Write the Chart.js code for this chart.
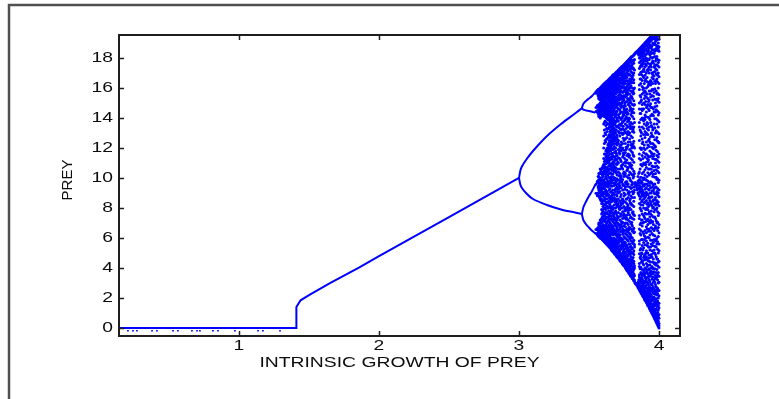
<!DOCTYPE html>
<html>
<head>
<meta charset="utf-8">
<script src="https://cdn.jsdelivr.net/npm/chart.js@4/dist/chart.umd.min.js"></script>
<style>
  html, body { margin: 0; padding: 0; background: #fff; }
</style>
</head>
<body>
<canvas id="c" width="779" height="399"></canvas>
<script>
// Bifurcation of prey population vs. intrinsic growth rate

// Tick labels
const xTicks = [1, 2, 3, 4];
const yTicks = [0, 2, 4, 6, 8, 10, 12, 14, 16, 18];

// Extinct state (prey = 0) and the stable equilibrium branch
const baseR = [0.143, 1.41, 1.41, 1.44, 1.5, 1.65, 1.86, 2.0, 2.5, 3.0];
const baseY = [0, 0, 1.4, 1.85, 2.2, 3.0, 4.05, 4.8, 7.4, 10.0];

// Small marks just under the zero line
const zeroMarkR = [0.207, 0.243, 0.271, 0.379, 0.414, 0.529, 0.564, 0.664, 0.70, 0.721, 0.814, 0.85, 0.971, 1.136, 1.171, 1.293];

// Period-2 cycle
const p2R = [3.0, 3.01, 3.02, 3.05, 3.1, 3.2, 3.3, 3.4, 3.449];
const p2Upper = [10.0, 10.5, 10.75, 11.2, 11.8, 12.8, 13.6, 14.3, 14.65];
const p2Lower = [10.0, 9.55, 9.35, 9.0, 8.6, 8.2, 7.9, 7.7, 7.6];

// Period-4 cycle
const p4R = [3.449, 3.46, 3.48, 3.5, 3.52, 3.545];
const p4High1 = [14.65, 14.95, 15.15, 15.3, 15.45, 15.7];
const p4Low1 = [14.65, 14.55, 14.5, 14.47, 14.42, 14.35];
const p4High2 = [7.6, 8.05, 8.45, 8.8, 9.1, 9.55];
const p4Low2 = [7.6, 7.2, 6.9, 6.7, 6.5, 6.3];

// Period-8 and chaotic region: growth rate columns and the prey values seen in each
const chaosR = [3.55, 3.56, 3.57, 3.58, 3.59, 3.60, 3.61, 3.62, 3.63, 3.64, 3.65, 3.66, 3.67, 3.68, 3.69,
  3.70, 3.71, 3.72, 3.73, 3.74, 3.75, 3.76, 3.77, 3.78, 3.79, 3.80, 3.81, 3.82, 3.83, 3.84, 3.85,
  3.86, 3.87, 3.88, 3.89, 3.90, 3.91, 3.92, 3.93, 3.94, 3.95, 3.96, 3.97, 3.98, 3.99, 4.00];
const chaosY = [
  [6.30, 6.57, 8.98, 9.59, 14.43, 14.69, 15.65, 15.75],
  [6.21, 6.64, 8.81, 9.79, 14.40, 14.83, 15.68, 15.84, 6.3, 6.55, 8.9, 9.7, 14.5, 14.75, 15.72, 15.8],
  [6.1, 6.2, 6.3, 6.4, 6.5, 6.6, 6.7, 6.9, 7.0, 8.8, 9.0, 9.2, 9.3, 9.5, 9.7, 9.9, 10.1, 10.3, 14.1, 14.2, 14.3, 14.5, 14.6, 14.7, 14.9, 15.3, 15.4, 15.5, 15.6, 15.7, 15.8, 15.9],
  [6.0, 6.1, 6.3, 6.35, 6.5, 6.7, 6.8, 7.0, 7.2, 8.6, 8.75, 9.0, 9.2, 9.35, 9.6, 9.8, 10.0, 10.3, 10.6, 14.0, 14.15, 14.3, 14.45, 14.6, 14.8, 15.0, 15.2, 15.35, 15.5, 15.6, 15.75, 15.85, 15.95, 16.0],
  [5.95, 6.05, 6.2, 6.3, 6.45, 6.6, 6.8, 7.0, 7.3, 7.6, 7.9, 8.3, 8.6, 8.85, 9.1, 9.3, 9.55, 9.8, 10.0, 10.3, 10.6, 14.2, 14.3, 14.5, 14.6, 14.75, 14.9, 15.1, 15.25, 15.4, 15.55, 15.7, 15.8, 15.95, 16.05, 16.1],
  [5.85, 5.95, 6.1, 6.25, 6.35, 6.55, 6.7, 6.9, 7.15, 7.45, 7.8, 8.1, 8.5, 8.8, 9.05, 9.35, 9.6, 9.85, 10.1, 10.4, 10.8, 14.2, 14.3, 14.4, 14.55, 14.7, 14.9, 15.05, 15.2, 15.4, 15.6, 15.75, 15.9, 16.0, 16.15, 16.2],
  [5.75, 5.8, 5.95, 6.2, 6.3, 6.6, 6.75, 7.1, 7.5, 7.6, 8.2, 8.5, 8.7, 9.3, 9.4, 9.9, 10.3, 10.5, 10.9, 11.1, 11.6, 12.3, 13.2, 13.7, 14.1, 14.2, 14.45, 14.6, 14.65, 14.9, 15.2, 15.3, 15.6, 15.75, 15.85, 16.05, 16.2, 16.3],
  [5.65, 5.7, 5.9, 6.05, 6.4, 6.5, 6.9, 7.3, 7.4, 7.9, 8.3, 8.4, 8.9, 9.2, 9.7, 10.0, 10.1, 10.6, 10.95, 11.2, 11.4, 11.8, 12.4, 12.9, 13.5, 14.05, 14.2, 14.3, 14.55, 14.8, 14.9, 15.1, 15.45, 15.55, 15.7, 15.95, 16.1, 16.25, 16.35, 16.4],
  [5.55, 5.6, 5.85, 6.0, 6.15, 6.6, 6.7, 7.0, 7.6, 7.7, 8.1, 8.6, 9.0, 9.1, 9.6, 9.9, 10.4, 10.7, 11.0, 11.3, 11.65, 12.0, 12.6, 13.1, 13.6, 13.95, 14.1, 14.35, 14.4, 14.7, 14.95, 15.05, 15.3, 15.5, 15.75, 15.9, 16.0, 16.25, 16.4, 16.45],
  [5.45, 5.5, 5.7, 5.95, 6.3, 6.4, 6.85, 7.2, 7.35, 7.8, 8.0, 8.45, 8.9, 9.5, 9.6, 10.05, 10.5, 10.8, 11.1, 11.5, 11.75, 12.0, 12.3, 12.8, 13.3, 13.6, 13.9, 14.0, 14.25, 14.5, 14.6, 14.85, 15.15, 15.3, 15.6, 15.7, 15.95, 16.1, 16.3, 16.45, 16.55],
  [5.35, 5.45, 5.6, 5.9, 6.1, 6.5, 6.6, 7.0, 7.5, 7.65, 8.2, 8.6, 8.75, 9.3, 9.8, 10.0, 10.35, 10.9, 11.2, 11.6, 11.9, 12.2, 12.4, 12.7, 13.1, 13.4, 13.75, 13.9, 14.05, 14.35, 14.4, 14.75, 15.0, 15.2, 15.4, 15.65, 15.85, 16.0, 16.2, 16.4, 16.55, 16.65],
  [5.2, 5.3, 5.55, 5.7, 6.0, 6.35, 6.45, 6.9, 7.3, 7.45, 7.95, 8.4, 8.8, 9.1, 9.65, 10.1, 10.3, 10.85, 11.4, 11.6, 12.0, 12.35, 12.7, 12.95, 13.2, 13.45, 13.65, 13.8, 14.1, 14.2, 14.55, 14.8, 15.1, 15.25, 15.55, 15.8, 15.9, 16.15, 16.35, 16.55, 16.7],
  [5.1, 5.2, 5.4, 5.65, 5.8, 6.2, 6.55, 6.7, 7.1, 7.7, 7.9, 8.5, 8.95, 9.2, 9.9, 10.25, 10.7, 11.05, 11.5, 11.9, 12.3, 12.6, 12.95, 13.2, 13.5, 13.7, 13.95, 14.3, 14.45, 14.7, 15.0, 15.35, 15.5, 15.7, 16.0, 16.2, 16.4, 16.6, 16.75, 16.85],
  [5.0, 5.05, 5.3, 5.5, 5.75, 6.0, 6.4, 6.6, 7.0, 7.4, 7.6, 8.2, 8.7, 8.9, 9.5, 9.9, 10.4, 10.8, 11.1, 11.7, 12.1, 12.6, 12.9, 13.3, 13.6, 13.8, 14.2, 14.5, 14.6, 14.95, 15.3, 15.45, 15.8, 16.0, 16.25, 16.5, 16.65, 16.8, 16.9],
  [4.9, 4.95, 5.15, 5.45, 5.6, 5.9, 6.3, 6.45, 6.85, 7.3, 7.8, 8.0, 8.6, 9.1, 9.3, 9.8, 10.5, 10.7, 11.3, 11.8, 12.0, 12.5, 13.0, 13.2, 13.7, 14.1, 14.3, 14.7, 15.0, 15.2, 15.6, 15.9, 16.1, 16.4, 16.6, 16.75, 16.95, 17.0],
  [4.75, 4.85, 5.0, 5.3, 5.55, 5.7, 6.1, 6.6, 6.7, 7.2, 7.5, 8.1, 8.5, 8.8, 9.4, 9.95, 10.2, 10.9, 11.2, 11.5, 12.2, 12.7, 12.85, 13.4, 13.9, 14.0, 14.45, 14.8, 15.1, 15.3, 15.7, 15.85, 16.2, 16.45, 16.7, 16.85, 17.0, 17.1],
  [4.65, 4.7, 4.9, 5.1, 5.4, 5.65, 5.85, 6.3, 6.5, 6.95, 7.4, 7.7, 8.3, 8.6, 9.0, 9.6, 9.85, 10.4, 11.0, 11.35, 11.9, 12.3, 12.5, 13.1, 13.5, 13.8, 14.2, 14.6, 14.9, 15.2, 15.5, 15.75, 16.0, 16.3, 16.6, 16.8, 17.0, 17.15, 17.2],
  [4.5, 4.6, 4.8, 5.05, 5.2, 5.5, 5.95, 6.2, 6.6, 6.75, 7.2, 7.9, 8.1, 8.45, 9.1, 9.5, 9.7, 10.3, 10.6, 11.3, 11.6, 12.1, 12.8, 13.0, 13.6, 14.0, 14.3, 14.55, 15.0, 15.35, 15.6, 15.9, 16.15, 16.4, 16.65, 16.9, 17.1, 17.25, 17.3],
  [4.4, 4.45, 4.65, 4.9, 5.25, 5.4, 5.8, 6.0, 6.45, 6.9, 7.1, 7.6, 8.2, 8.35, 8.9, 9.35, 10.0, 10.15, 10.8, 11.1, 11.8, 12.2, 12.4, 13.2, 13.5, 13.9, 14.4, 14.7, 14.85, 15.25, 15.5, 15.8, 16.05, 16.35, 16.6, 16.85, 17.05, 17.3, 17.4],
  [4.25, 4.35, 4.55, 4.75, 5.0, 5.35, 5.6, 5.9, 6.25, 6.6, 7.05, 7.3, 7.75, 8.3, 8.6, 9.2, 9.6, 9.9, 10.6, 10.9, 11.4, 12.0, 12.3, 12.9, 13.3, 13.75, 14.1, 14.4, 14.8, 15.1, 15.45, 15.7, 16.0, 16.25, 16.55, 16.8, 17.05, 17.25, 17.45],
  [4.15, 4.2, 4.4, 4.7, 4.85, 5.2, 5.5, 5.75, 6.1, 6.5, 6.8, 7.35, 7.6, 8.1, 8.8, 9.0, 9.5, 10.1, 10.4, 11.0, 11.6, 11.85, 12.5, 13.0, 13.2, 13.8, 14.2, 14.6, 14.75, 15.2, 15.5, 15.8, 16.1, 16.3, 16.6, 16.9, 17.1, 17.4, 17.55],
  [4.0, 4.1, 4.3, 4.5, 4.8, 5.05, 5.3, 5.7, 6.0, 6.3, 6.75, 7.0, 7.5, 8.0, 8.4, 8.9, 9.4, 9.7, 10.3, 10.8, 11.1, 11.7, 12.3, 12.6, 13.1, 13.6, 13.9, 14.35, 14.8, 15.05, 15.4, 15.75, 16.0, 16.3, 16.65, 16.95, 17.2, 17.45, 17.65],
  [3.85, 3.95, 4.15, 4.4, 4.65, 4.9, 5.25, 5.5, 5.9, 6.2, 6.6, 7.0, 7.3, 7.85, 8.3, 8.6, 9.2, 9.75, 10.1, 10.5, 11.2, 11.5, 12.0, 12.7, 13.0, 13.5, 14.0, 14.4, 14.6, 15.1, 15.5, 15.8, 16.1, 16.5, 16.7, 17.0, 17.3, 17.55, 17.75],
  [3.75, 3.8, 4.0, 4.3, 4.5, 4.8, 5.1, 5.35, 5.8, 6.1, 6.4, 6.9, 7.2, 7.7, 8.2, 8.7, 9.0, 9.6, 10.0, 10.7, 11.0, 11.6, 12.2, 12.4, 13.1, 13.4, 13.9, 14.3, 14.9, 15.2, 15.6, 15.9, 16.2, 16.45, 16.85, 17.15, 17.4, 17.65, 17.85],
  [3.6, 3.65, 3.85, 4.1, 4.35, 4.6, 5.0, 5.2, 5.6, 5.95, 6.3, 6.7, 7.1, 7.55, 8.0, 8.5, 9.05, 9.4, 10.0, 10.4, 10.9, 11.5, 11.9, 12.6, 13.0, 13.6, 13.95, 14.5, 14.8, 15.3, 15.6, 16.0, 16.3, 16.6, 16.9, 17.25, 17.5, 17.75, 17.95],
  [3.45, 3.5, 3.7, 3.95, 4.2, 4.5, 4.75, 5.1, 5.45, 5.8, 6.1, 6.6, 7.0, 7.4, 7.9, 8.3, 8.8, 9.3, 9.8, 10.3, 10.7, 11.3, 11.8, 12.2, 12.8, 13.3, 13.7, 14.2, 14.6, 15.0, 15.45, 15.8, 16.15, 16.45, 16.8, 17.1, 17.4, 17.7, 17.9, 18.05],
  [3.3, 3.35, 3.55, 3.8, 4.1, 4.4, 4.6, 5.0, 5.3, 5.65, 6.0, 6.45, 6.8, 7.3, 7.7, 8.2, 8.7, 9.1, 9.7, 10.2, 10.6, 11.2, 11.7, 12.1, 12.7, 13.1, 13.6, 14.1, 14.4, 14.9, 15.3, 15.7, 16.0, 16.4, 16.7, 17.0, 17.3, 17.6, 17.85, 18.1],
  [3.15, 3.2, 3.45, 3.6, 3.9, 4.3, 4.45, 4.9, 5.15, 5.6, 5.85, 6.35, 6.65, 7.25, 7.55, 8.1, 8.45, 9.05, 9.4, 10.1, 10.45, 11.05, 11.45, 12.1, 12.45, 13.05, 13.4, 13.95, 14.35, 14.85, 15.15, 15.65, 15.95, 16.35, 16.55, 17.0, 17.25, 17.65, 17.85, 18.2],
  [2.99, 3.0, 9.66, 9.7, 18.33, 18.3],
  [2.87, 2.95, 9.37, 9.55, 18.42, 18.4],
  [2.7, 2.85, 3.05, 9.0, 9.35, 9.8, 10.1, 18.3, 18.45, 18.5],
  [2.55, 2.6, 2.9, 3.0, 3.4, 3.55, 4.1, 4.3, 4.95, 5.6, 5.8, 6.6, 7.3, 7.5, 8.3, 8.8, 9.05, 9.3, 9.5, 9.9, 10.4, 11.3, 11.6, 12.5, 13.4, 13.7, 14.6, 15.0, 15.9, 16.2, 16.9, 17.3, 17.7, 18.0, 18.2, 18.4, 18.55, 18.6],
  [2.35, 2.5, 2.7, 3.05, 3.2, 3.7, 4.05, 4.6, 4.8, 5.3, 6.2, 6.5, 7.0, 7.9, 8.2, 8.75, 9.1, 9.4, 9.65, 10.05, 10.9, 11.2, 12.0, 12.8, 13.1, 13.9, 14.3, 15.1, 15.4, 16.3, 16.6, 17.05, 17.5, 17.8, 18.1, 18.3, 18.5, 18.7],
  [2.2, 2.25, 2.5, 2.75, 3.0, 3.3, 3.5, 3.9, 4.45, 4.95, 5.5, 5.9, 6.8, 7.2, 7.6, 8.5, 8.9, 9.2, 9.7, 10.3, 10.8, 11.5, 12.3, 12.6, 13.4, 14.0, 14.5, 14.9, 15.6, 16.1, 16.5, 17.1, 17.45, 17.9, 18.2, 18.4, 18.65, 18.8],
  [2.05, 2.15, 2.4, 2.55, 2.85, 3.15, 3.6, 3.75, 4.2, 4.7, 5.35, 5.7, 6.3, 7.05, 7.5, 8.0, 8.6, 9.0, 9.45, 9.9, 10.4, 11.0, 11.7, 12.0, 12.9, 13.3, 13.8, 14.6, 15.0, 15.7, 16.0, 16.7, 17.25, 17.6, 17.95, 18.3, 18.55, 18.75, 18.9],
  [1.85, 2.0, 2.15, 2.5, 2.65, 3.05, 3.4, 3.6, 4.0, 4.55, 4.9, 5.55, 6.1, 6.5, 7.3, 7.65, 8.4, 8.7, 9.25, 9.6, 10.2, 10.55, 11.4, 11.9, 12.7, 13.1, 13.9, 14.2, 14.9, 15.5, 15.8, 16.5, 16.85, 17.4, 17.8, 18.15, 18.5, 18.8, 19.0],
  [1.7, 1.8, 2.0, 2.3, 2.45, 2.85, 3.2, 3.35, 3.9, 4.3, 4.75, 5.15, 5.8, 6.35, 6.75, 7.6, 8.0, 8.5, 9.05, 9.35, 9.85, 10.7, 11.05, 11.6, 12.4, 13.0, 13.5, 14.4, 14.7, 15.4, 16.0, 16.45, 17.0, 17.5, 17.9, 18.25, 18.55, 18.9, 19.1],
  [1.5, 1.55, 1.85, 2.0, 2.35, 2.55, 3.0, 3.4, 3.6, 4.2, 4.5, 5.0, 5.65, 6.05, 6.9, 7.25, 7.9, 8.35, 8.9, 9.5, 9.8, 10.35, 11.1, 11.5, 12.2, 12.9, 13.6, 14.05, 14.9, 15.3, 16.1, 16.4, 17.15, 17.65, 17.95, 18.35, 18.7, 19.05, 19.2],
  [1.35, 1.45, 1.7, 1.85, 2.2, 2.5, 2.7, 3.2, 3.5, 3.95, 4.45, 4.85, 5.4, 6.0, 6.6, 7.1, 7.75, 8.2, 8.75, 9.2, 9.7, 10.2, 10.9, 11.4, 12.1, 12.6, 13.4, 14.0, 14.5, 15.2, 15.8, 16.3, 17.0, 17.4, 17.9, 18.3, 18.65, 19.0, 19.3],
  [1.15, 1.2, 1.5, 1.65, 2.05, 2.25, 2.7, 2.95, 3.45, 3.8, 4.4, 4.7, 5.4, 5.85, 6.45, 7.2, 7.6, 8.35, 8.7, 9.35, 9.75, 10.3, 11.0, 11.45, 12.3, 12.75, 13.7, 14.15, 14.95, 15.4, 16.2, 16.5, 17.2, 17.55, 18.05, 18.4, 18.85, 19.15, 19.4],
  [0.98, 1.1, 1.3, 1.5, 1.9, 2.1, 2.55, 2.9, 3.25, 3.75, 4.1, 4.75, 5.15, 5.85, 6.3, 7.05, 7.5, 8.15, 8.75, 9.15, 9.65, 10.4, 10.8, 11.6, 12.05, 12.85, 13.4, 14.25, 14.7, 15.5, 15.9, 16.7, 17.0, 17.7, 18.0, 18.55, 18.8, 19.25, 19.45],
  [0.8, 0.9, 1.05, 1.4, 1.6, 2.0, 2.3, 2.75, 3.05, 3.6, 3.95, 4.6, 5.0, 5.7, 6.2, 6.9, 7.4, 8.05, 8.55, 9.15, 9.55, 10.25, 10.75, 11.45, 11.95, 12.75, 13.3, 14.15, 14.6, 15.45, 15.9, 16.6, 17.05, 17.65, 18.05, 18.55, 18.95, 19.3, 19.55],
  [0.6, 0.65, 0.95, 1.1, 1.5, 1.75, 2.25, 2.5, 3.05, 3.35, 3.95, 4.35, 5.0, 5.45, 6.15, 6.65, 7.4, 7.9, 8.55, 8.95, 9.6, 10.05, 10.75, 11.25, 12.05, 12.55, 13.35, 13.95, 14.75, 15.25, 15.95, 16.45, 17.1, 17.5, 18.1, 18.45, 18.95, 19.25, 19.55],
  [0.4, 0.55, 0.7, 1.0, 1.25, 1.65, 1.95, 2.45, 2.75, 3.3, 3.7, 4.3, 4.75, 5.4, 5.9, 6.65, 7.15, 7.9, 8.35, 8.95, 9.4, 10.05, 10.55, 11.25, 11.85, 12.55, 13.15, 13.95, 14.55, 15.25, 15.8, 16.5, 16.95, 17.55, 17.95, 18.55, 18.85, 19.35, 19.5],
  [0.2, 0.35, 0.5, 0.85, 1.05, 1.5, 1.8, 2.3, 2.65, 3.2, 3.55, 4.15, 4.6, 5.25, 5.75, 6.5, 7.05, 7.75, 8.25, 8.85, 9.3, 9.95, 10.45, 11.15, 11.75, 12.45, 13.05, 13.85, 14.45, 15.15, 15.65, 16.4, 16.85, 17.5, 17.9, 18.5, 18.8, 19.3, 19.5],
  [0.0, 0.15, 0.3, 0.65, 0.9, 1.35, 1.65, 2.15, 2.5, 3.05, 3.45, 4.05, 4.45, 5.15, 5.6, 6.35, 6.9, 7.65, 8.15, 8.75, 9.2, 9.85, 10.35, 11.05, 11.6, 12.35, 12.95, 13.75, 14.35, 15.05, 15.55, 16.3, 16.75, 17.4, 17.85, 18.45, 18.75, 19.25, 19.5]
];

// Half-step columns between the ones above
const chaosR2 = [3.565, 3.575, 3.585, 3.595, 3.605, 3.615, 3.625, 3.635, 3.645, 3.655, 3.665, 3.675, 3.685, 3.695,
  3.705, 3.715, 3.725, 3.735, 3.745, 3.755, 3.765, 3.775, 3.785, 3.795, 3.805, 3.815, 3.825, 3.835, 3.845, 3.855,
  3.865, 3.875, 3.885, 3.895, 3.905, 3.915, 3.925, 3.935, 3.945, 3.955, 3.965, 3.975, 3.985, 3.995];
const chaosY2 = [
  [6.15, 6.2, 6.5, 6.7, 9.0, 9.4, 9.8, 10.1, 14.3, 14.5, 14.8, 15.5, 15.7, 15.9],
  [6.05, 6.25, 6.45, 6.9, 8.7, 9.15, 9.65, 10.3, 14.15, 14.4, 14.75, 15.25, 15.45, 15.65, 15.95],
  [5.98, 6.15, 6.55, 6.75, 7.1, 8.5, 8.95, 9.45, 9.9, 10.45, 14.1, 14.35, 14.7, 14.95, 15.3, 15.5, 15.8, 16.05],
  [5.9, 6.0, 6.4, 6.6, 7.4, 7.7, 8.4, 9.0, 9.25, 9.7, 10.2, 10.7, 14.15, 14.4, 14.65, 15.0, 15.15, 15.5, 15.65, 15.9, 16.15],
  [5.8, 5.9, 6.15, 6.45, 6.8, 7.3, 7.95, 8.25, 8.95, 9.5, 9.75, 10.25, 10.65, 10.9, 11.3, 12.0, 12.8, 13.6, 14.15, 14.35, 14.6, 14.8, 15.15, 15.35, 15.7, 15.95, 16.1, 16.25],
  [5.7, 5.85, 6.0, 6.5, 6.65, 7.2, 7.7, 8.0, 8.6, 9.1, 9.55, 9.7, 10.4, 10.75, 11.2, 11.6, 12.5, 13.0, 13.8, 14.1, 14.3, 14.5, 14.75, 15.0, 15.4, 15.5, 15.9, 16.15, 16.3],
  [5.6, 5.75, 6.1, 6.25, 6.8, 7.05, 7.65, 8.15, 8.8, 9.0, 9.45, 10.25, 10.5, 11.1, 11.5, 11.9, 12.6, 13.3, 13.7, 14.0, 14.15, 14.45, 14.7, 15.0, 15.25, 15.65, 15.85, 16.0, 16.3, 16.4],
  [5.5, 5.65, 5.8, 6.35, 6.55, 7.15, 7.4, 8.0, 8.35, 8.85, 9.4, 9.75, 10.2, 10.55, 11.15, 11.4, 11.8, 12.2, 12.7, 13.3, 13.6, 13.9, 14.1, 14.25, 14.55, 14.85, 15.1, 15.4, 15.6, 15.8, 16.15, 16.35, 16.5],
  [5.4, 5.55, 5.75, 6.05, 6.2, 6.75, 7.1, 7.55, 8.1, 8.3, 8.7, 9.2, 9.75, 10.3, 10.6, 11.0, 11.3, 11.85, 12.1, 12.5, 12.9, 13.4, 13.85, 13.95, 14.2, 14.45, 14.75, 15.05, 15.2, 15.55, 15.8, 16.05, 16.2, 16.4, 16.6],
  [5.3, 5.4, 5.65, 5.8, 6.25, 6.6, 6.8, 7.25, 7.8, 8.0, 8.55, 9.05, 9.5, 9.95, 10.6, 10.75, 11.35, 11.8, 12.05, 12.5, 12.8, 13.2, 13.5, 13.7, 13.85, 14.15, 14.5, 14.65, 14.95, 15.3, 15.5, 15.75, 15.95, 16.25, 16.5, 16.7],
  [5.15, 5.25, 5.45, 5.85, 5.95, 6.5, 6.75, 7.2, 7.65, 8.1, 8.65, 8.85, 9.45, 9.8, 10.5, 10.95, 11.25, 11.65, 12.2, 12.5, 12.85, 13.1, 13.35, 13.55, 13.75, 14.0, 14.4, 14.65, 14.9, 15.2, 15.45, 15.65, 16.05, 16.3, 16.5, 16.65, 16.8],
  [5.05, 5.15, 5.35, 5.55, 5.9, 6.25, 6.35, 6.8, 7.3, 7.55, 8.0, 8.6, 9.0, 9.65, 10.05, 10.55, 10.95, 11.4, 11.95, 12.45, 12.75, 13.1, 13.35, 13.6, 13.9, 14.25, 14.4, 14.8, 15.15, 15.25, 15.6, 15.9, 16.1, 16.35, 16.55, 16.75, 16.9],
  [4.92, 5.0, 5.2, 5.4, 5.7, 5.85, 6.25, 6.5, 6.95, 7.2, 7.7, 8.4, 8.55, 9.2, 9.65, 10.0, 10.65, 11.2, 11.4, 12.0, 12.3, 12.75, 13.1, 13.55, 13.75, 14.05, 14.4, 14.85, 15.05, 15.4, 15.7, 15.85, 16.2, 16.45, 16.6, 16.85, 16.95],
  [4.8, 4.9, 5.1, 5.35, 5.5, 5.8, 6.2, 6.4, 6.8, 7.05, 7.65, 8.25, 8.4, 8.9, 9.55, 9.75, 10.35, 10.95, 11.5, 11.65, 12.3, 12.6, 13.2, 13.45, 13.8, 14.25, 14.4, 14.9, 15.15, 15.4, 15.8, 16.0, 16.3, 16.55, 16.75, 16.9, 17.05],
  [4.7, 4.8, 5.25, 5.4, 6.0, 6.25, 7.0, 7.35, 8.2, 9.1, 9.25, 10.6, 11.05, 12.4, 12.55, 13.8, 14.65, 15.0, 15.9, 16.1, 16.6, 16.95, 17.1],
  [4.6, 4.75, 5.0, 5.75, 6.1, 6.85, 7.95, 8.1, 9.3, 9.45, 10.15, 11.7, 11.85, 13.0, 13.35, 14.05, 15.2, 15.35, 16.25, 16.5, 17.0, 17.2],
  [4.45, 4.55, 4.95, 5.3, 5.9, 6.4, 7.45, 7.6, 8.75, 9.85, 10.0, 11.2, 12.0, 12.2, 13.25, 14.4, 14.8, 15.75, 16.0, 16.5, 16.95, 17.3],
  [4.35, 4.5, 4.8, 5.55, 5.7, 6.75, 7.0, 8.0, 8.55, 9.75, 10.7, 10.85, 11.9, 13.0, 13.65, 14.0, 15.0, 15.35, 16.1, 16.7, 16.95, 17.2, 17.4],
  [4.2, 4.3, 4.65, 5.1, 5.45, 6.4, 6.55, 7.5, 8.4, 8.5, 9.5, 10.3, 11.5, 11.65, 12.65, 13.45, 14.25, 15.3, 15.45, 16.4, 16.75, 17.3, 17.5],
  [4.1, 4.2, 4.6, 4.95, 5.6, 6.0, 6.95, 7.8, 7.95, 9.25, 10.2, 10.35, 11.3, 12.6, 13.0, 13.95, 14.5, 14.95, 15.85, 16.45, 16.75, 17.35, 17.6],
  [3.95, 4.05, 4.45, 4.7, 5.4, 5.55, 6.5, 7.25, 7.4, 8.6, 9.6, 9.75, 11.0, 11.9, 12.05, 13.3, 14.1, 14.55, 15.6, 15.95, 16.8, 17.3, 17.7],
  [3.8, 3.9, 4.2, 4.6, 5.15, 5.35, 6.4, 7.55, 8.0, 8.1, 9.45, 10.55, 10.7, 12.1, 12.9, 13.75, 14.25, 15.3, 15.7, 16.3, 17.15, 17.45, 17.8],
  [3.65, 3.75, 4.05, 4.5, 4.95, 5.6, 6.55, 6.7, 7.85, 8.9, 9.1, 10.2, 11.4, 11.55, 12.9, 13.8, 14.0, 15.0, 15.85, 16.0, 16.95, 17.55, 17.9],
  [3.5, 3.6, 3.95, 4.25, 4.9, 5.4, 6.1, 6.25, 7.35, 8.35, 8.6, 9.85, 10.8, 11.0, 12.4, 13.3, 13.45, 14.7, 15.15, 16.1, 16.45, 17.3, 17.75, 18.0],
  [3.4, 3.55, 3.8, 4.3, 4.45, 5.3, 6.0, 6.9, 7.05, 8.2, 9.35, 9.55, 10.85, 12.0, 12.25, 13.4, 14.35, 14.5, 15.4, 16.35, 16.6, 17.5, 17.85, 18.1],
  [3.25, 3.35, 3.75, 4.0, 4.7, 5.0, 5.75, 6.55, 7.6, 7.75, 8.95, 10.0, 10.2, 11.55, 12.3, 13.2, 13.35, 14.6, 15.6, 15.8, 16.85, 17.35, 17.8, 18.15],
  [3.1, 3.2, 3.5, 4.0, 4.15, 5.4, 5.55, 6.4, 7.5, 8.7, 9.2, 9.6, 10.3, 12.0, 13.7, 14.9, 16.0, 17.2, 17.9, 18.25],
  [2.93, 9.5, 18.37],
  [2.8, 2.9, 9.2, 9.6, 18.45, 18.38],
  [2.62, 2.75, 2.95, 3.2, 8.9, 9.3, 9.7, 10.3, 18.2, 18.4, 18.55],
  [2.45, 2.55, 2.8, 3.1, 3.3, 3.95, 4.7, 5.2, 6.3, 6.9, 8.0, 8.6, 9.2, 9.4, 9.85, 10.6, 12.0, 13.2, 14.3, 15.5, 16.6, 17.4, 18.0, 18.35, 18.5, 18.65],
  [2.3, 2.4, 2.65, 2.8, 3.35, 3.6, 4.4, 5.0, 5.9, 7.2, 7.8, 8.4, 9.0, 9.35, 9.8, 10.9, 11.9, 13.0, 14.6, 15.2, 16.9, 17.6, 18.3, 18.55, 18.75],
  [2.12, 2.2, 2.4, 2.9, 3.15, 3.6, 4.3, 4.5, 5.2, 6.4, 7.0, 8.2, 8.8, 9.1, 9.55, 10.0, 11.3, 12.4, 13.9, 14.6, 15.9, 16.8, 17.7, 18.1, 18.5, 18.85],
  [1.95, 2.05, 2.25, 2.7, 3.0, 3.5, 3.9, 4.8, 5.9, 6.15, 7.4, 8.35, 8.9, 9.5, 10.0, 10.9, 12.2, 13.6, 14.0, 15.3, 16.3, 17.1, 17.8, 18.35, 18.7, 18.95],
  [1.8, 1.9, 2.1, 2.35, 2.8, 3.3, 3.7, 4.6, 5.0, 6.0, 7.1, 7.9, 8.8, 9.0, 9.9, 10.9, 11.6, 12.9, 14.1, 15.1, 15.7, 16.6, 17.6, 18.0, 18.6, 18.9, 19.05],
  [1.62, 1.7, 1.95, 2.2, 2.65, 3.05, 3.75, 4.1, 5.0, 5.5, 6.6, 7.15, 8.25, 8.9, 9.6, 10.1, 11.3, 12.0, 13.3, 13.7, 14.8, 15.6, 16.7, 17.2, 17.8, 18.45, 18.8, 19.15],
  [1.45, 1.55, 1.75, 2.1, 2.45, 2.85, 3.35, 3.9, 4.65, 5.4, 6.45, 7.6, 8.1, 8.65, 9.25, 10.6, 11.2, 12.5, 13.2, 14.6, 15.1, 16.2, 17.3, 17.9, 18.5, 18.9, 19.25],
  [1.25, 1.35, 1.6, 1.9, 2.35, 2.6, 3.1, 3.7, 4.2, 5.2, 6.2, 7.0, 7.4, 8.5, 9.0, 9.5, 10.6, 11.8, 12.4, 13.9, 14.8, 15.6, 16.4, 17.6, 18.2, 18.8, 19.1, 19.35],
  [1.07, 1.15, 1.35, 1.8, 2.1, 2.5, 2.9, 3.6, 4.0, 4.9, 5.6, 6.7, 7.8, 8.2, 9.0, 9.7, 10.6, 11.7, 13.0, 13.5, 14.7, 15.8, 16.4, 17.4, 18.3, 18.7, 19.2, 19.45],
  [0.88, 0.95, 1.2, 1.55, 1.85, 2.4, 2.65, 3.4, 4.0, 4.4, 5.5, 6.6, 7.1, 8.0, 8.45, 9.4, 10.1, 11.3, 12.3, 13.2, 14.2, 15.2, 16.3, 16.9, 17.8, 18.35, 19.0, 19.35, 19.55],
  [0.7, 0.78, 1.0, 1.25, 1.7, 2.05, 2.6, 3.2, 3.75, 4.3, 5.2, 5.9, 6.5, 7.75, 8.3, 9.0, 9.3, 10.5, 11.6, 12.2, 13.6, 14.4, 15.7, 16.8, 17.4, 18.3, 18.9, 19.4, 19.6],
  [0.5, 0.58, 0.8, 1.2, 1.6, 1.9, 2.4, 2.9, 3.5, 4.2, 4.9, 5.8, 6.8, 7.3, 8.2, 8.7, 9.4, 10.3, 11.0, 12.1, 13.0, 14.4, 15.0, 16.3, 17.3, 17.8, 18.6, 19.1, 19.5],
  [0.3, 0.4, 0.65, 0.9, 1.4, 1.75, 2.2, 2.6, 3.4, 3.9, 4.6, 5.6, 6.0, 7.0, 8.0, 8.5, 9.1, 9.9, 10.8, 11.5, 12.7, 13.6, 14.8, 15.6, 16.6, 17.2, 18.1, 18.7, 19.2, 19.55],
  [0.1, 0.2, 0.45, 0.75, 1.2, 1.5, 2.0, 2.5, 3.0, 3.7, 4.4, 5.0, 6.1, 6.7, 7.5, 8.4, 9.0, 9.7, 10.7, 11.4, 12.4, 13.4, 14.2, 15.3, 16.0, 17.0, 17.7, 18.6, 19.0, 19.5]
];

const BLUE = '#0000ff';
const TEXT_SX = 1.38;   // horizontal stretch of the axis lettering
const FONT = '"Liberation Sans", Arial, sans-serif';

const pairs = (xs, ys) => xs.map((x, i) => ({ x, y: ys[i] }));
const lineSet = (xs, ys, extra) => Object.assign({
  data: pairs(xs, ys), showLine: true, borderColor: BLUE, borderWidth: 2,
  pointRadius: 0, fill: false
}, extra || {});

const chaosPts = [];
chaosR.forEach((r, i) => chaosY[i].forEach(v => chaosPts.push({ x: r, y: v })));
chaosR2.forEach((r, i) => chaosY2[i].forEach(v => chaosPts.push({ x: r, y: v })));

// Frame, inward tick marks, tick labels and axis titles
const framePlugin = {
  id: 'frame',
  beforeDraw(chart) {
    const ctx = chart.ctx;
    ctx.save();
    ctx.fillStyle = '#fff';
    ctx.fillRect(0, 0, chart.width, chart.height);
    ctx.restore();
  },
  afterDraw(chart) {
    const { ctx, chartArea: a, scales: { x, y } } = chart;
    ctx.save();
    // outer figure border (top and left)
    ctx.strokeStyle = '#505050';
    ctx.lineWidth = 2.5;
    ctx.beginPath();
    ctx.moveTo(9, 399); ctx.lineTo(9, 5); ctx.lineTo(779, 5);
    ctx.stroke();

    // axes box
    ctx.strokeStyle = '#1e1e1e';
    ctx.lineWidth = 2;
    ctx.strokeRect(a.left, a.top, a.right - a.left, a.bottom - a.top);

    // inward ticks on all four sides
    ctx.lineWidth = 1.5;
    ctx.beginPath();
    xTicks.forEach(v => {
      const px = Math.round(x.getPixelForValue(v)) + 0.5;
      ctx.moveTo(px, a.bottom); ctx.lineTo(px, a.bottom - 5);
      ctx.moveTo(px, a.top); ctx.lineTo(px, a.top + 5);
    });
    yTicks.forEach(v => {
      const py = Math.round(y.getPixelForValue(v)) + 0.5;
      ctx.moveTo(a.left, py); ctx.lineTo(a.left + 5, py);
      ctx.moveTo(a.right, py); ctx.lineTo(a.right - 5, py);
    });
    ctx.stroke();

    ctx.fillStyle = '#0d0d0d';
    ctx.font = '14px ' + FONT;
    ctx.textBaseline = 'alphabetic';

    const wide = (text, px, py, align) => {
      ctx.save();
      ctx.translate(px, py);
      ctx.scale(TEXT_SX, 1);
      ctx.textAlign = align;
      ctx.fillText(text, 0, 0);
      ctx.restore();
    };

    xTicks.forEach(v => wide(String(v), x.getPixelForValue(v), 350, 'center'));
    yTicks.forEach(v => wide(String(v), 113, y.getPixelForValue(v) + 4, 'right'));

    wide('INTRINSIC GROWTH OF PREY', (a.left + a.right) / 2, 367, 'center');

    ctx.save();
    ctx.translate(72, 180);
    ctx.rotate(-Math.PI / 2);
    ctx.font = '15px ' + FONT;
    ctx.textAlign = 'center';
    ctx.fillText('PREY', 0, 0);
    ctx.restore();

    ctx.restore();
  }
};

new Chart(document.getElementById('c'), {
  type: 'scatter',
  data: {
    datasets: [
      lineSet(baseR, baseY),
      {
        data: zeroMarkR.map(r => ({ x: r, y: -0.18 })),
        pointStyle: 'rect', pointRadius: 1.2, pointBorderWidth: 0,
        backgroundColor: BLUE, borderColor: BLUE
      },
      lineSet(p2R, p2Upper, { tension: 0.3 }),
      lineSet(p2R, p2Lower, { tension: 0.3 }),
      lineSet(p4R, p4High1, { tension: 0.3 }),
      lineSet(p4R, p4Low1, { tension: 0.3 }),
      lineSet(p4R, p4High2, { tension: 0.3 }),
      lineSet(p4R, p4Low2, { tension: 0.3 }),
      {
        data: chaosPts,
        pointRadius: 1.5, pointBorderWidth: 0,
        backgroundColor: BLUE, borderColor: BLUE
      }
    ]
  },
  options: {
    responsive: false,
    animation: false,
    events: [],
    layout: { padding: { left: 119, top: 35, right: 99, bottom: 63 } },
    plugins: { legend: { display: false }, tooltip: { enabled: false } },
    scales: {
      x: { type: 'linear', display: false, min: 0.143, max: 4.15 },
      y: { type: 'linear', display: false, min: -0.53, max: 19.53 }
    }
  },
  plugins: [framePlugin]
});
</script>
</body>
</html>
